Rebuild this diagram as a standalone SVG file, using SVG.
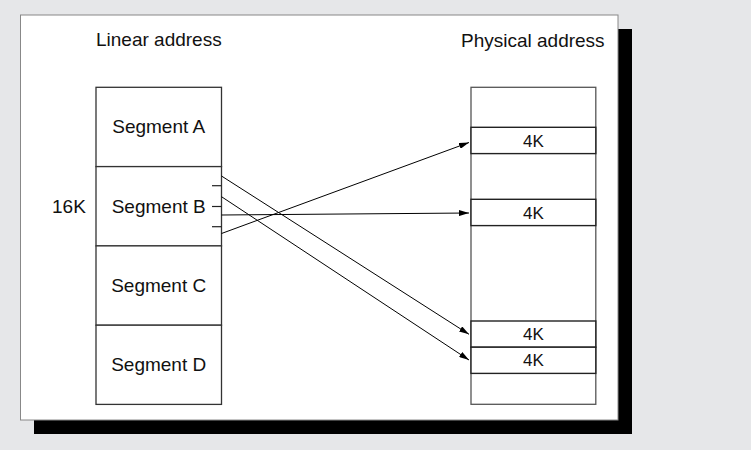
<svg xmlns="http://www.w3.org/2000/svg" width="751" height="450" viewBox="0 0 751 450">
<style>
text{font-family:"Liberation Sans",Arial,sans-serif;fill:#111}
.t{font-size:19px}
.k{font-size:17px;text-anchor:middle}
.seg{fill:#fff;stroke:#333;stroke-width:1.3}
.col{fill:#fff;stroke:#555;stroke-width:1.3}
.blk{fill:#fff;stroke:#222;stroke-width:1.4}
.ln{stroke:#000;stroke-width:1;fill:none}
.tick{stroke:#222;stroke-width:1.2}
</style>
<defs>
<marker id="ah" viewBox="0 0 10 6" refX="10" refY="3" markerWidth="10" markerHeight="6" markerUnits="userSpaceOnUse" orient="auto">
<path d="M0,0 L10,3 L0,6 Z" fill="#000"/>
</marker>
</defs>
<rect x="0" y="0" width="751" height="450" fill="#e6e7e9"/>
<rect x="34" y="29" width="598" height="405" fill="#000"/>
<rect x="20.5" y="15" width="597.5" height="405" fill="#fff" stroke="#888" stroke-width="1"/>
<g id="title-linear"><text class="t" x="96" y="45.7">Linear address</text></g>
<g id="title-physical"><text class="t" x="461" y="47">Physical address</text></g>
<g id="segA"><rect class="seg" x="96" y="87.3" width="125.5" height="79.3"/><text class="t" x="158.7" y="133" text-anchor="middle">Segment A</text></g>
<g id="segB"><rect class="seg" x="96" y="166.6" width="125.5" height="79.3"/><text class="t" x="158.7" y="212.6" text-anchor="middle">Segment B</text>
<line class="tick" x1="212" y1="185.7" x2="221.5" y2="185.7"/>
<line class="tick" x1="212" y1="206.5" x2="221.5" y2="206.5"/>
<line class="tick" x1="212" y1="226.7" x2="221.5" y2="226.7"/></g>
<g id="segC"><rect class="seg" x="96" y="245.9" width="125.5" height="79.3"/><text class="t" x="158.7" y="291.8" text-anchor="middle">Segment C</text></g>
<g id="segD"><rect class="seg" x="96" y="325.2" width="125.5" height="79.2"/><text class="t" x="158.7" y="371" text-anchor="middle">Segment D</text></g>
<g id="label16k"><text class="t" x="52" y="212.6">16K</text></g>
<g id="physical"><rect class="col" x="471" y="87.3" width="124.8" height="317"/></g>
<g id="blk1"><rect class="blk" x="471" y="127.3" width="124.8" height="26.3"/><text class="k" x="533.5" y="146.5">4K</text></g>
<g id="blk2"><rect class="blk" x="471" y="199.3" width="124.8" height="26.3"/><text class="k" x="533.5" y="218.5">4K</text></g>
<g id="blk3"><rect class="blk" x="471" y="321" width="124.8" height="26.2"/><text class="k" x="533.5" y="340.2">4K</text></g>
<g id="blk4"><rect class="blk" x="471" y="347.2" width="124.8" height="26.2"/><text class="k" x="533.5" y="366.4">4K</text></g>
<g id="connectors">
<line class="ln" x1="221.5" y1="176" x2="469" y2="334.3" marker-end="url(#ah)"/>
<line class="ln" x1="221.5" y1="196.7" x2="469" y2="360" marker-end="url(#ah)"/>
<line class="ln" x1="221.5" y1="215" x2="469" y2="213" marker-end="url(#ah)"/>
<line class="ln" x1="221.5" y1="233.5" x2="469" y2="142.5" marker-end="url(#ah)"/>
</g>
</svg>
